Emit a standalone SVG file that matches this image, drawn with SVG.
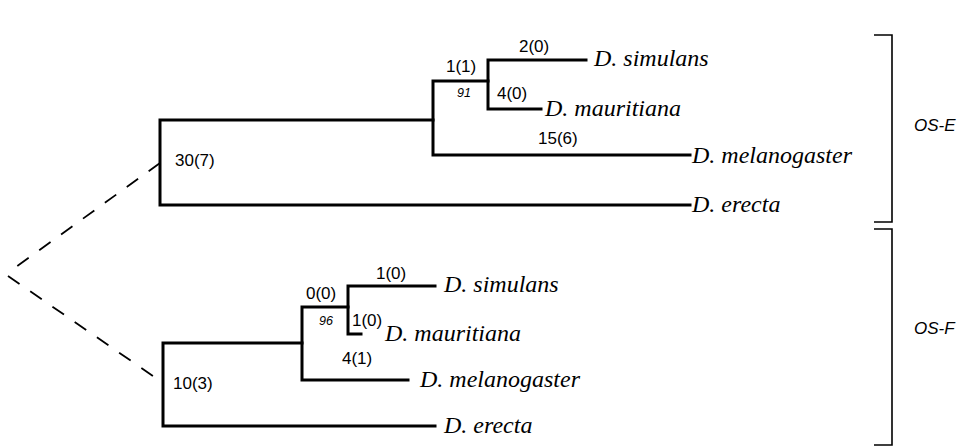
<svg xmlns="http://www.w3.org/2000/svg" width="958" height="447" viewBox="0 0 958 447">
<style>
.br{fill:none;stroke:#000;stroke-width:3;stroke-linecap:square}
.bk{fill:none;stroke:#000;stroke-width:1.6}
.ds{fill:none;stroke:#000;stroke-width:1.8;stroke-dasharray:14 13}
.sp{font-family:"Liberation Serif","Times New Roman",serif;font-style:italic;font-size:24px;fill:#000}
.lb{font-family:"Liberation Sans",Arial,sans-serif;font-size:17px;fill:#000}
.bs{font-family:"Liberation Sans",Arial,sans-serif;font-style:italic;font-size:12.5px;fill:#000}
.os{font-family:"Liberation Sans",Arial,sans-serif;font-style:italic;font-size:17px;fill:#000}
</style>
<rect width="958" height="447" fill="#fff"/>
<g id="connectors">
<path class="ds" d="M160 163 L16 267"/>
<path class="ds" d="M8 276 L153 376"/>
<path class="br" d="M433 120 H160 V205 H690"/>
<path class="br" d="M488 81 H433 V155 H690"/>
<path class="br" d="M586 60 H488 V109 H541"/>
<path class="br" d="M302 343 H163 V426 H435"/>
<path class="br" d="M348 307 H302 V380 H408"/>
<path class="br" d="M435 286 H348 V334 H361"/>
</g>
<g id="labels-top">
<text class="lb" x="519" y="52">2(0)</text>
<text class="lb" x="446" y="72">1(1)</text>
<text class="bs" x="457" y="97">91</text>
<text class="lb" x="497" y="99">4(0)</text>
<text class="lb" x="538" y="144">15(6)</text>
<text class="lb" x="175" y="166">30(7)</text>
</g>
<g id="labels-bottom">
<text class="lb" x="376" y="279">1(0)</text>
<text class="lb" x="306" y="299">0(0)</text>
<text class="bs" x="319" y="325">96</text>
<text class="lb" x="352" y="326">1(0)</text>
<text class="lb" x="342" y="364">4(1)</text>
<text class="lb" x="173" y="389">10(3)</text>
</g>
<g id="taxa-top">
<text class="sp" x="594" y="66">D. simulans</text>
<text class="sp" x="545" y="116">D. mauritiana</text>
<text class="sp" x="692" y="163">D. melanogaster</text>
<text class="sp" x="692" y="212">D. erecta</text>
</g>
<g id="taxa-bottom">
<text class="sp" x="444" y="292">D. simulans</text>
<text class="sp" x="385" y="341">D. mauritiana</text>
<text class="sp" x="420" y="387">D. melanogaster</text>
<text class="sp" x="444" y="433">D. erecta</text>
</g>
<g id="bracket-OS-E">
<path class="bk" d="M874 35 H892 V222 H874"/>
<text class="os" x="914" y="131">OS-E</text>
</g>
<g id="bracket-OS-F">
<path class="bk" d="M874 229 H892 V445 H874"/>
<text class="os" x="914" y="334">OS-F</text>
</g>
</svg>
